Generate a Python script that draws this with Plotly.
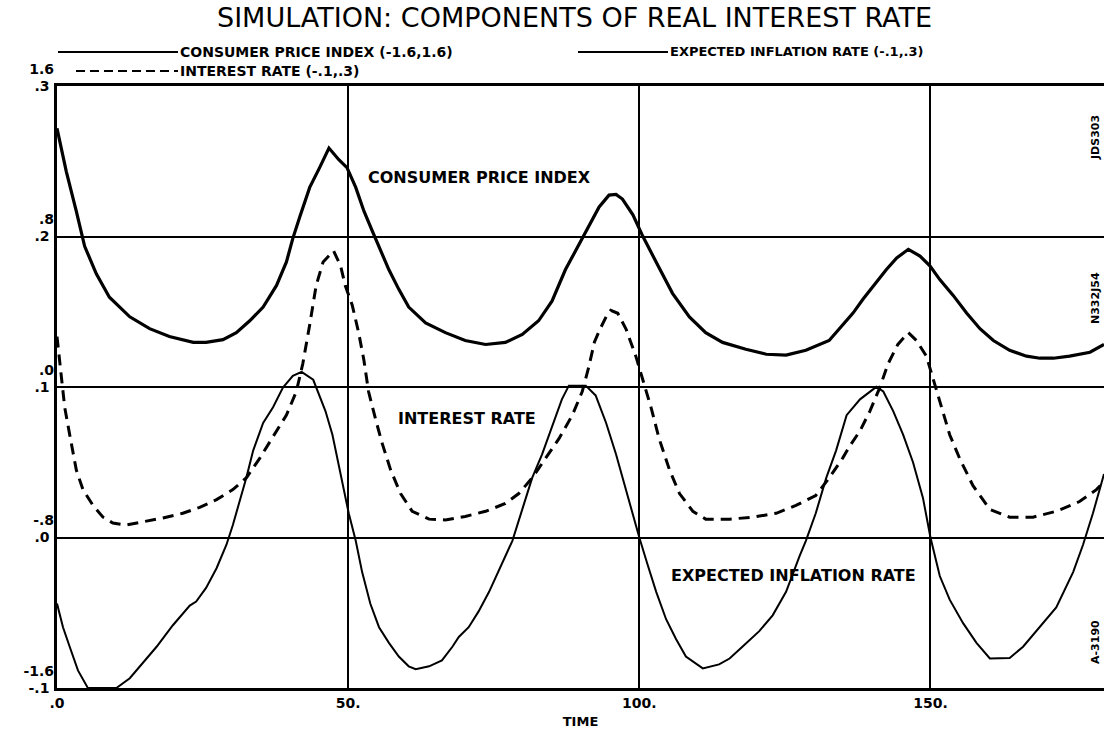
import plotly.graph_objects as go

# ---------------- data ----------------
cpi_t = [0, 1.6, 3.3, 4.75, 6.75, 9, 12.5, 15.9, 19.3, 23.4, 25.6, 28.5, 30.8, 33.1, 35.4,
         37.7, 39.4, 40.5, 41.7, 43.4, 45.1, 46.7, 48.4, 49.8, 51.3, 52.7, 54.1, 55.6, 57,
         58.7, 60.4, 63.3, 66.7, 70.1, 73.6, 77, 79.9, 82.7, 85, 87.3, 90.2, 93.1, 94.8, 96,
         97.1, 98.9, 100.6, 101.7, 103.4, 105.7, 108.6, 111.4, 114.3, 118.3, 121.8, 125.2,
         128.6, 132.6, 134.4, 136.7, 138.4, 140.2, 142.4, 144.2, 146.2, 148.2, 149.9, 151.6,
         153.9, 156.2, 158.5, 160.8, 163.6, 166.5, 168.8, 171.1, 173.9, 177.4, 179.8]
cpi_v = [1.375, 1.145, 0.936, 0.748, 0.602, 0.477, 0.373, 0.31, 0.268, 0.237, 0.237, 0.252,
         0.289, 0.352, 0.425, 0.54, 0.665, 0.79, 0.905, 1.061, 1.166, 1.27, 1.208, 1.166, 1.061,
         0.936, 0.832, 0.727, 0.623, 0.519, 0.425, 0.341, 0.289, 0.247, 0.226, 0.237, 0.279,
         0.352, 0.456, 0.623, 0.79, 0.957, 1.02, 1.024, 0.999, 0.915, 0.801, 0.738, 0.634,
         0.498, 0.373, 0.289, 0.237, 0.201, 0.174, 0.17, 0.195, 0.247, 0.31, 0.393, 0.466,
         0.539, 0.623, 0.686, 0.732, 0.696, 0.644, 0.571, 0.487, 0.393, 0.31, 0.247, 0.195,
         0.164, 0.153, 0.153, 0.164, 0.185, 0.226]

ir_t = [0, 0.74, 1.32, 2.18, 3.32, 4.46, 6.18, 7.9, 9.6, 11.9, 14.8, 18.2, 21.6, 24.5, 27.4,
        30.2, 32.5, 34.8, 37.1, 39.4, 41.1, 42.2, 43.4, 44.5, 45.7, 47.5, 48.7, 49.5, 50.7,
        51.8, 52.7, 53.5, 54.7, 55.8, 57.3, 59, 61, 63.9, 66.7, 70.1, 73.6, 77, 79.3, 81.6,
        83.9, 86.2, 88.5, 90.2, 91.3, 92.3, 93.2, 94.3, 95.1, 96.3, 97.7, 99.4, 100.6, 102,
        103.4, 105.2, 106.9, 109.2, 111.4, 115.5, 119.5, 123.5, 126.9, 130.3, 132.6, 134.9,
        136.1, 137.9, 139.6, 141.3, 142.7, 144.4, 146.2, 147.6, 149.3, 150.5, 151.6, 153.3,
        155, 157.3, 160.2, 163.6, 167.6, 171.6, 175.6, 178.5, 179.8]
ir_v = [0.1335, 0.1048, 0.0866, 0.0683, 0.0448, 0.0318, 0.0213, 0.0135, 0.0096, 0.0083,
        0.0104, 0.013, 0.0161, 0.02, 0.0252, 0.0318, 0.0396, 0.0526, 0.067, 0.0813, 0.097,
        0.1153, 0.1414, 0.1674, 0.1831, 0.1904, 0.1805, 0.1674, 0.1544, 0.1361, 0.1179, 0.097,
        0.0787, 0.0631, 0.0448, 0.0292, 0.0174, 0.0122, 0.0117, 0.014, 0.0174, 0.0226, 0.0292,
        0.0396, 0.0526, 0.0657, 0.0813, 0.097, 0.113, 0.13, 0.138, 0.1466, 0.151, 0.149,
        0.1387, 0.1205, 0.1048, 0.0866, 0.0657, 0.0448, 0.0292, 0.0174, 0.0122, 0.0122,
        0.0135, 0.0161, 0.0213, 0.0279, 0.0396, 0.0526, 0.0605, 0.0709, 0.084, 0.0996, 0.1153,
        0.1283, 0.1361, 0.1309, 0.1205, 0.1048, 0.0892, 0.0683, 0.0526, 0.0344, 0.0187,
        0.0135, 0.0135, 0.0174, 0.0239, 0.0318, 0.037]

ei_t = [0, 1.03, 2.18, 3.6, 5.3, 10.2, 12.5, 14.8, 17.1, 19.9, 22.8, 23.9, 25.6, 27.4, 29.1,
        30.2, 31.4, 32.5, 33.7, 35.4, 37.1, 38.8, 40.5, 42, 44, 45.2, 46.1, 47.3, 48.4, 49.3,
        50.1, 51.3, 52.4, 53.8, 55.3, 57, 58.7, 60.4, 61.6, 63.9, 66.1, 67.9, 69, 70.7, 72.4,
        74.2, 76.4, 78.2, 79.9, 81.6, 83.3, 85, 86.7, 87.9, 90.8, 92.5, 94.3, 96, 97.7, 99.1,
        100, 101.4, 102.9, 104.6, 106.3, 108, 110.9, 113.7, 115.5, 117.7, 120.6, 122.9, 125.2,
        127.5, 128.6, 130.3, 132.1, 133.8, 135.6, 137.9, 140.7, 141.9, 143.6, 145.3, 147,
        148.7, 150, 151.6, 153.3, 155.6, 157.9, 160.2, 163.6, 165.9, 168.8, 171.6, 174.5,
        176.2, 177.9, 179.8]
ei_v = [-0.0439, -0.0596, -0.0726, -0.0883, -0.1, -0.1, -0.0935, -0.083, -0.0726, -0.0583,
        -0.0452, -0.0426, -0.0335, -0.0204, -0.0048, 0.0083, 0.0239, 0.0396, 0.0579, 0.0761,
        0.0866, 0.0996, 0.1074, 0.11, 0.1048, 0.093, 0.084, 0.0683, 0.0474, 0.0292, 0.0161,
        -0.0022, -0.023, -0.0439, -0.0596, -0.07, -0.0791, -0.0856, -0.0875, -0.0856, -0.0817,
        -0.0726, -0.0661, -0.0596, -0.0491, -0.0361, -0.0178, -0.0022, 0.0187, 0.0396, 0.0553,
        0.0735, 0.0918, 0.1009, 0.1009, 0.0944, 0.0761, 0.0553, 0.0318, 0.0109, 0.0, -0.0178,
        -0.0361, -0.0543, -0.0674, -0.0791, -0.087, -0.0843, -0.0804, -0.0726, -0.0622,
        -0.0517, -0.0361, -0.0126, -0.0022, 0.0161, 0.0396, 0.0579, 0.0813, 0.0918, 0.1001,
        0.097, 0.084, 0.0683, 0.05, 0.0265, 0.0, -0.0256, -0.0413, -0.0569, -0.07, -0.0804,
        -0.08, -0.0726, -0.0596, -0.0465, -0.023, -0.0048, 0.0161, 0.0422]

x_ticks = [0, 50, 100, 150]
x_ticktext = [".0", "50.", "100.", "150."]
rate_ticks = [-0.1, 0.0, 0.1, 0.2, 0.3]
rate_ticktext = ["-.1", ".0", ".1", ".2", ".3"]
cpi_ticks = [-1.6, -0.8, 0.0, 0.8, 1.6]
cpi_ticktext = ["-1.6", "-.8", ".0", ".8", "1.6"]

title_text = "SIMULATION: COMPONENTS OF REAL INTEREST RATE"
legend_cpi = "CONSUMER PRICE INDEX (-1.6,1.6)"
legend_ir = "INTEREST RATE (-.1,.3)"
legend_ei = "EXPECTED INFLATION RATE (-.1,.3)"

# ---------------- layout geometry ----------------
W, H = 1104, 732
ML, MR, MT, MB = 57, 0, 86, 44
PW, PH = W - ML - MR, H - MT - MB
FONT = "DejaVu Sans"


def px(x):
    return (x - ML) / PW


def py(y):
    return (H - MB - y) / PH


fig = go.Figure()
fig.add_trace(go.Scatter(x=cpi_t, y=cpi_v, yaxis="y2", mode="lines",
                         line=dict(color="black", width=3.2), name="CPI"))
fig.add_trace(go.Scatter(x=ir_t, y=ir_v, mode="lines",
                         line=dict(color="black", width=3, dash="11px,7px"), name="IR"))
fig.add_trace(go.Scatter(x=ei_t, y=ei_v, mode="lines",
                         line=dict(color="black", width=2), name="EI"))

tickfont = dict(family=FONT, size=14, color="black", weight="bold")

fig.update_layout(
    width=W, height=H,
    margin=dict(l=ML, r=MR, t=MT, b=MB, autoexpand=False),
    paper_bgcolor="white", plot_bgcolor="white",
    showlegend=False,
    xaxis=dict(range=[0, 179.8], tickvals=x_ticks, ticktext=x_ticktext, automargin=False,
               showgrid=True, gridcolor="black", gridwidth=1.6, zeroline=False,
               showline=True, linecolor="black", linewidth=2.5, mirror=True,
               ticks="", tickfont=tickfont,
               title=dict(text="TIME", font=dict(family=FONT, size=13, color="black", weight="bold"),
                          standoff=8)),
    yaxis=dict(range=[-0.1, 0.3], tickvals=rate_ticks, ticktext=rate_ticktext, automargin=False,
               showgrid=True, gridcolor="black", gridwidth=1.6, zeroline=False,
               showline=True, linecolor="black", linewidth=2.5,
               ticks="", tickfont=tickfont, ticklabelstandoff=2),
    yaxis2=dict(range=[-1.6, 1.6], tickvals=cpi_ticks, ticktext=cpi_ticktext, automargin=False,
                overlaying="y", side="left", showgrid=False, zeroline=False,
                showline=False, ticks="", tickfont=tickfont,
                ticklabelshift=-17, ticklabelstandoff=2),
)

# title
fig.add_annotation(text=title_text, xref="paper", yref="paper", x=px(574), y=py(18),
                   showarrow=False, xanchor="center", yanchor="middle",
                   font=dict(family=FONT, size=27, color="black"))

# legend keys
fig.add_shape(type="line", xref="paper", yref="paper", x0=px(58), x1=px(178), y0=py(52), y1=py(52),
              line=dict(color="black", width=2.2))
fig.add_shape(type="line", xref="paper", yref="paper", x0=px(76), x1=px(178), y0=py(71), y1=py(71),
              line=dict(color="black", width=2.2, dash="9px,5px"))
fig.add_shape(type="line", xref="paper", yref="paper", x0=px(578), x1=px(668), y0=py(52), y1=py(52),
              line=dict(color="black", width=2.2))
legfont = dict(family=FONT, size=14, color="black", weight="bold")
for txt, x, y in [(legend_cpi, 178, 52), (legend_ir, 178, 71)]:
    fig.add_annotation(text=txt, xref="paper", yref="paper", x=px(x), y=py(y), showarrow=False,
                       xanchor="left", yanchor="middle", font=legfont)
fig.add_annotation(text=legend_ei, xref="paper", yref="paper", x=px(668), y=py(52), showarrow=False,
                   xanchor="left", yanchor="middle",
                   font=dict(family=FONT, size=13, color="black", weight="bold"))

# inline labels
lblfont = dict(family=FONT, size=16, color="black", weight="bold")
for txt, x, y in [("CONSUMER PRICE INDEX", 479, 177), ("INTEREST RATE", 467, 418),
                  ("EXPECTED INFLATION RATE", 793, 575)]:
    fig.add_annotation(text=txt, xref="paper", yref="paper", x=px(x), y=py(y), showarrow=False,
                       xanchor="center", yanchor="middle", font=lblfont)

# side identifiers
sidefont = dict(family=FONT, size=11, color="black", weight="bold")
for txt, y in [("JDS303", 138), ("N332J54", 298), ("A-3190", 642)]:
    fig.add_annotation(text=txt, xref="paper", yref="paper", x=px(1095), y=py(y), showarrow=False,
                       xanchor="center", yanchor="middle", textangle=-90, font=sidefont)

fig.write_html("out.html", config={"displayModeBar": False},
               post_script="document.body.style.margin='0';")
